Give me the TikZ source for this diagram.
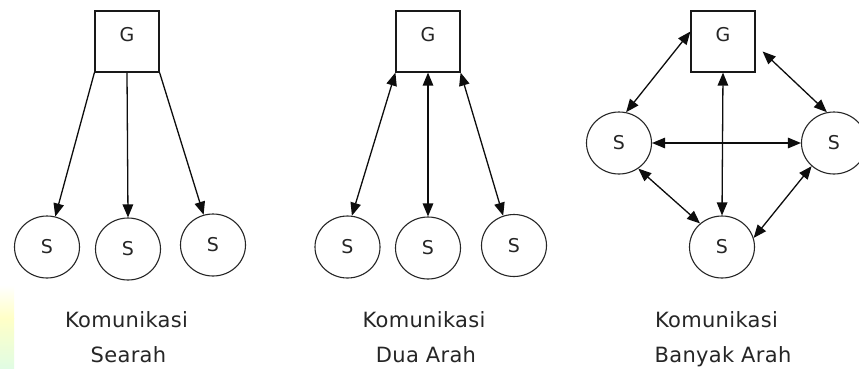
\documentclass[tikz,border=0pt]{standalone}
\usepackage{fontspec}
\setmainfont{DejaVu Sans}[LetterSpace=1.5]
\usetikzlibrary{arrows.meta,shapes.geometric}

\tikzset{
  lbl/.style={font=\fontsize{19}{22}\selectfont, text=black!85, inner sep=0pt},
  gbox/.style={draw=black!90, line width=1.2pt, minimum width=64pt, minimum height=61pt, inner sep=0pt},
  sbox/.style={ellipse, draw=black!85, line width=1.1pt, minimum width=65pt, minimum height=62pt, inner sep=0pt,
    font=\fontsize{19}{22}\selectfont, text=black!85},
  tip/.tip={Triangle[length=13pt,width=10.5pt]},
  link/.style={line width=1.3pt, draw=black!95, -tip},
  both/.style={line width=1.3pt, draw=black!95, tip-tip},
  caption/.style={font=\fontsize{21}{24}\selectfont, text=black!85, inner sep=0pt, anchor=base}
}

\begin{document}
\begin{tikzpicture}[x=1pt,y=-1pt]
\useasboundingbox (0,0) rectangle (859,368);
\fill[white] (0,0) rectangle (859,368);

% faint logo strip at the lower left
\shade[top color=white, bottom color=yellow!22] (0,285) rectangle (14,318);
\shade[top color=yellow!22, bottom color=teal!18!green!12] (0,318) rectangle (14,368);

% ---- one-way communication
\node[gbox] (G1) at (127,41.5) {};
\node[lbl] at (127,35) {G};
\node[sbox] (S1a) at (47,247) {S};
\node[sbox] (S1b) at (128,249) {S};
\node[sbox] (S1c) at (213,245) {S};
\draw[link] (G1.south west) -- (S1a);
\draw[link] (G1.south) -- (S1b.north);
\draw[link] (G1.south east) -- (S1c);
\node[caption] (T1a) at (126.5,327) {Komunikasi};
\node[caption] (T1b) at (128.5,362) {Searah};

% ---- two-way communication
\node[gbox] (G2) at (428,41.5) {};
\node[lbl] at (428,35) {G};
\node[sbox] (S2a) at (347.5,247) {S};
\node[sbox] (S2b) at (428,248) {S};
\node[sbox] (S2c) at (514,245.5) {S};
\draw[both] (G2.south west) -- (S2a.82);
\draw[both] (G2.south) -- (S2b.north);
\draw[both] (G2.south east) -- (S2c.110);
\node[caption] (T2a) at (424,327) {Komunikasi};
\node[caption] (T2b) at (426,362) {Dua Arah};

% ---- many-way communication
\node[gbox] (G3) at (723,41.5) {};
\node[lbl] at (723,35) {G};
\node[sbox] (S3l) at (619,143) {S};
\node[sbox] (S3r) at (834,143) {S};
\node[sbox] (S3b) at (722,247) {S};
\draw[both] (G3.163) -- (S3l.77);
\draw[both] ([xshift=7pt,yshift=-10pt]G3.east) -- (S3r.103);
\draw[both] (G3.south) -- (S3b.north);
\draw[both] (S3l.east) -- (S3r.west);
\draw[both] (S3l.-53) -- (S3b.133);
\draw[both] (S3r.226) -- (S3b.16);
\node[caption] (T3a) at (716.5,327) {Komunikasi};
\node[caption] (T3b) at (723,362) {Banyak Arah};
\end{tikzpicture}
\end{document}
